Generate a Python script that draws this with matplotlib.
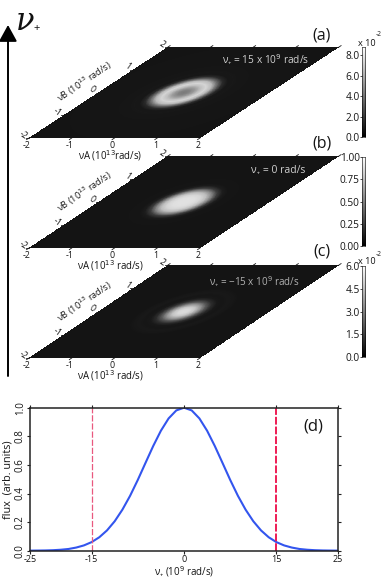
import numpy as np
import matplotlib
matplotlib.use("Agg")
import matplotlib.pyplot as plt
from matplotlib.transforms import Affine2D

plt.rcParams['font.family'] = ['Open Sans', 'DejaVu Sans']
W, H = 382, 581

# ---------- data ----------
map_ticks = [-2, -1, 0, 1, 2]
radii = [0.0, 0.1, 0.2, 0.3, 0.4, 0.5, 0.6, 0.7, 0.8, 0.9, 1.0, 2.9]
profile_a = [0.038, 0.041, 0.050, 0.064, 0.072, 0.062, 0.032, 0.008, 0.0012, 0.0015, 0.0008, 0.0]
profile_b = [0.87, 0.87, 0.86, 0.82, 0.72, 0.48, 0.17, 0.035, 0.006, 0.008, 0.004, 0.0]
profile_c = [0.051, 0.050, 0.045, 0.033, 0.017, 0.006, 0.0012, 0.0005, 0.0012, 0.0008, 0.0, 0.0]
vmax = [0.088, 1.0, 0.06]
cb_ticks = [[0, 2, 4, 6, 8], [0, .25, .5, .75, 1], [0, 1.5, 3, 4.5, 6]]
cb_labels = [['0.0', '2.0', '4.0', '6.0', '8.0'],
             ['0.00', '0.25', '0.50', '0.75', '1.00'],
             ['0.0', '1.5', '3.0', '4.5', '6.0']]
nu_plus = np.arange(-25, 25.01, 1.25)
flux_half = [0.0004, 0.001, 0.0018, 0.0035, 0.0067, 0.012, 0.022, 0.037, 0.060, 0.094,
             0.142, 0.206, 0.287, 0.384, 0.495, 0.614, 0.732, 0.839, 0.925, 0.981]
flux = flux_half + [1.0] + flux_half[::-1]
d_xticks = [-25, -15, 0, 15, 25]
d_yticks = [0.0, 0.2, 0.4, 0.6, 0.8, 1.0]
# ---------- layout (pixels) ----------
panels = [(138.0, 47.0, '(a)', 'ν₊ = 15 x 10$^{9}$ rad/s', (222, 60), (322, 36), 7.3, '#d0d0d0'),
          (248.0, 156.0, '(b)', 'ν₊ = 0 rad/s', (251, 171), (322, 143), 7.5, '#d0d0d0'),
          (358.0, 265.0, '(c)', 'ν₊ = −15 x 10$^{9}$ rad/s', (209, 282), (322, 252), 7.1, '#b0b0b0')]
profiles = [profile_a, profile_b, profile_c]
cb_rows = [(47, 137), (157, 246), (266, 357)]
INK = '#151515'

fig = plt.figure(figsize=(W / 100, H / 100), dpi=100)
bg = fig.add_axes([0, 0, 1, 1])
bg.set_xlim(0, W)
bg.set_ylim(H, 0)
bg.axis('off')

g = np.linspace(-2, 2, 401)
U, V = np.meshgrid(g, g)
R = np.hypot(U, V)
for k, (yb, yt, tag, txt, tp, lp, tfs, tcol) in enumerate(panels):
    dx = (339 - 29 - 171) / 4
    sx = 171 / 4
    sy = (yb - yt) / 4
    x0 = 29 + 2 * sx + 2 * dx
    y0 = yb - 2 * sy
    tr = Affine2D.from_values(sx, 0, dx, -sy, x0, y0) + bg.transData
    Z = np.interp(R, radii, profiles[k]) / vmax[k]
    bg.pcolormesh(U, V, Z, cmap='gray', vmin=-0.085, vmax=1.0, shading='auto',
                  transform=tr, rasterized=True)
    lw = dict(color=INK, lw=0.6)
    for t in map_ticks:
        bg.plot([t, t], [-2, -2.07], transform=tr, clip_on=False, **lw)
        bg.plot([-2, -2.07], [t, t], transform=tr, clip_on=False, **lw)
        bg.plot([t, t], [2, 2.06], transform=tr, clip_on=False, **lw)
        bx = x0 + t * sx - 2 * dx
        bg.text(bx - 2, yb + 7, str(t), fontsize=6.3, ha='center', va='center', color=INK)
        lx = x0 - 2 * sx + t * dx - 6
        ly = y0 - t * sy - 3
        bg.text(lx, ly, str(t), fontsize=6.3, ha='center', va='center', color=INK, rotation=-35)
    bg.text(110, yb + 18, 'νA (10$^{13}$ rad/s)' if k else 'νA (10$^{13}$rad/s)', fontsize=6.9,
            ha='center', va='center', color=INK)
    bg.text(85, yb - 56, 'νB (10$^{13}$ rad/s)', fontsize=6.6, ha='center', va='center',
            rotation=34, rotation_mode='anchor', color=INK)
    bg.text(tp[0], tp[1], txt, fontsize=tfs, color=tcol, ha='left', va='center')
    bg.text(lp[0], lp[1], tag, fontsize=11.5, color=INK, ha='center', va='center')

    y1, y2 = cb_rows[k]
    cax = fig.add_axes([362 / W, 1 - y2 / H, 3.5 / W, (y2 - y1) / H])
    top = vmax[k] * (100 if k != 1 else 1)
    grad = np.linspace(0, top, 256)[:, None]
    cax.imshow(grad, origin='lower', aspect='auto', cmap='gray', vmin=0, vmax=top,
               extent=[0, 1, 0, top])
    cax.set_xticks([])
    cax.set_yticks(cb_ticks[k])
    cax.set_yticklabels(cb_labels[k], fontsize=7.3, color=INK)
    cax.tick_params(axis='y', length=1.2, width=0.5, pad=0.4)
    for s in cax.spines.values():
        s.set_linewidth(0.4)
    if k != 1:
        bg.text(367, y1 - 4, 'x 10', fontsize=6.6, ha='center', va='center', color=INK)
        bg.text(379, y1 - 12, '-2', fontsize=4.8, ha='center', va='center', color=INK)

# big arrow
bg.annotate('', xy=(8, 25), xytext=(8, 376),
            arrowprops=dict(arrowstyle='-|>,head_length=1.0,head_width=0.55', lw=1.4, color='black',
                            shrinkA=0, shrinkB=0))
bg.text(25, 21, 'ν', fontsize=22, family='DejaVu Serif', style='italic', ha='center', va='center', color='#111111')
bg.text(37, 29, '+', fontsize=8, ha='center', va='center', color='#111111')

# panel d
ax = fig.add_axes([30 / W, 1 - 550.7 / H, 308 / W, 143 / H])
ax.plot(nu_plus, flux, color='#3355ee', lw=1.5)
ax.axvline(-15, color='#e9587f', lw=0.9, ls=(0, (5, 1.5)))
ax.axvline(15, color='#ee1c55', lw=1.4, ls=(0, (4, 1)))
ax.set_xlim(-25, 25)
ax.set_ylim(0, 1)
ax.set_xticks(d_xticks)
ax.set_yticks(d_yticks)
ax.set_xticklabels([str(v) for v in d_xticks], fontsize=6.5, color=INK)
ax.set_yticklabels([f'{v:.1f}' for v in d_yticks], fontsize=7, rotation=90, va='center', color=INK)
ax.tick_params(length=2.2, width=0.8, top=True, right=True, pad=0.8, color='#222222')
for s in ax.spines.values():
    s.set_linewidth(1.1)
    s.set_color('#222222')
ax.set_ylabel('flux  (arb. units)', fontsize=7.8, labelpad=1.0, color=INK)
ax.set_xlabel('ν₊ (10$^{9}$ rad/s)', fontsize=7, labelpad=0.2, color=INK)
ax.text(0.92, 0.87, '(d)', transform=ax.transAxes, fontsize=12, ha='center', va='center', color=INK)

fig.savefig('out.png', dpi=100)
